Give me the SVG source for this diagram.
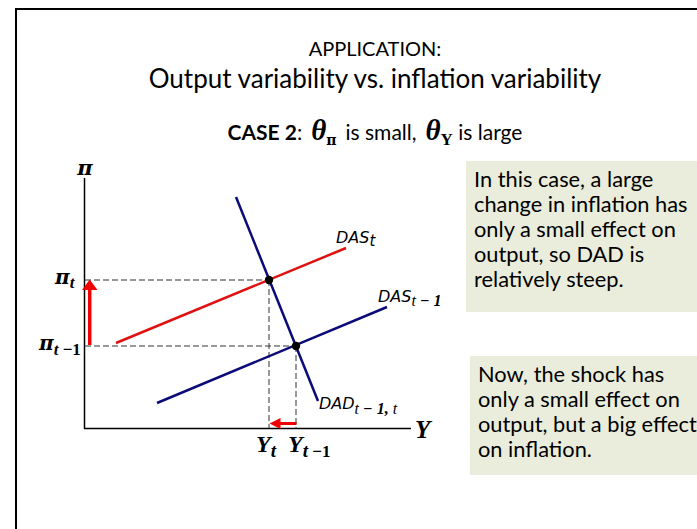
<svg xmlns="http://www.w3.org/2000/svg" width="697" height="529" viewBox="0 0 697 529">
<style>
.sans{font-family:Lato,"Open Sans","Liberation Sans",sans-serif;fill:#000}
.math{font-family:"Liberation Serif","Times New Roman",serif;font-weight:bold;font-style:italic;fill:#000}
.pi{font-family:"DejaVu Serif","Liberation Serif",serif;font-weight:bold;font-style:italic}
.up{font-style:normal}
.lbl{font-family:"DejaVu Sans",Verdana,sans-serif;font-style:italic;font-size:16px;fill:#000}
.sub{font-family:"Liberation Serif",serif;font-style:italic;font-size:16px}
.axis{stroke:#000;stroke-width:1.5;fill:none}
.dash{stroke:#333;stroke-width:1;stroke-dasharray:6 3;fill:none}
.red{stroke:#e01010;stroke-width:2.5;fill:none}
.blue{stroke:#0a0a78;stroke-width:2.5;fill:none}
.box{fill:#eaeddc}
.body{font-family:Lato,"Open Sans","Liberation Sans",sans-serif;font-size:21.8px;fill:#000}
</style>
<rect x="0" y="0" width="697" height="529" fill="#fff"/>
<rect x="16" y="9" width="720" height="560" fill="none" stroke="#000" stroke-width="2"/>

<g id="title">
<text class="sans" x="375" y="56" text-anchor="middle" font-size="20">APPLICATION:</text>
<text class="sans" x="375" y="88" text-anchor="middle" font-size="26">Output variability vs. inflation variability</text>
<text class="sans" x="375" y="140" text-anchor="middle" font-size="21"><tspan font-weight="bold">CASE 2</tspan>:<tspan class="math" font-size="29" dx="9">θ</tspan><tspan class="math up pi" font-size="14" dy="5">π</tspan><tspan dy="-5" dx="9">is small,</tspan><tspan class="math" font-size="29" dx="9">θ</tspan><tspan class="math up" font-size="17" dy="5">Y</tspan><tspan dy="-5"> is large</tspan></text>
</g>

<g id="axes">
<line class="axis" x1="84.5" y1="178" x2="84.5" y2="428.5"/>
<line class="axis" x1="84" y1="428.5" x2="411" y2="428.5"/>
<text class="math pi" x="85" y="175" text-anchor="middle" font-size="21">π</text>
<text class="math" x="415" y="438" font-size="25">Y</text>
</g>

<g id="connectors">
<line class="dash" x1="85" y1="280" x2="269" y2="280"/>
<line class="dash" x1="85" y1="346" x2="296" y2="346"/>
<line class="dash" x1="269" y1="280" x2="269" y2="428"/>
<line class="dash" x1="296" y1="346" x2="296" y2="428"/>
<line class="red" x1="116" y1="343" x2="346" y2="248"/>
<line class="blue" x1="157" y1="403" x2="387" y2="307"/>
<line class="blue" x1="236" y1="197" x2="318" y2="401"/>
<line stroke="#f00000" stroke-width="3.5" x1="89.7" y1="345" x2="89.7" y2="288"/>
<polygon fill="#f00000" points="89.7,279.5 97.5,290 82,290"/>
<line stroke="#f00000" stroke-width="3" x1="296.5" y1="423.5" x2="279" y2="423.5"/>
<polygon fill="#f00000" points="269.5,423.5 280.5,418 280.5,429"/>
</g>

<g id="points">
<circle cx="269" cy="280" r="4.2" fill="#000"/>
<circle cx="296" cy="346" r="4.2" fill="#000"/>
</g>

<g id="labels">
<text class="math" x="55" y="284" font-size="20"><tspan class="pi">π</tspan><tspan font-size="17" dy="4">t</tspan></text>
<text class="math" x="39" y="350" font-size="20"><tspan class="pi">π</tspan><tspan font-size="17" dy="5">t</tspan><tspan class="up" font-size="17"> −1</tspan></text>
<text class="math" x="256" y="452" font-size="24">Y<tspan font-size="19" dy="5">t</tspan></text>
<text class="math" x="288" y="452" font-size="24">Y<tspan font-size="19" dy="5">t</tspan><tspan class="up" font-size="17"> −1</tspan></text>
<text class="lbl" x="336" y="243">DAS<tspan font-size="15" dy="3">t</tspan></text>
<text class="lbl" x="378" y="302">DAS<tspan class="sub" dy="4">t</tspan><tspan class="sub up" font-weight="bold"> − 1</tspan></text>
<text class="lbl" x="319" y="409">DAD<tspan class="sub" dy="5">t</tspan><tspan class="sub up" font-weight="bold"> − 1, </tspan><tspan class="sub">t</tspan></text>
</g>

<g id="box1">
<rect class="box" x="466" y="161" width="240" height="151"/>
<text class="body" x="474" y="187">In this case, a large</text>
<text class="body" x="474" y="212">change in inflation has</text>
<text class="body" x="474" y="237">only a small effect on</text>
<text class="body" x="474" y="262">output, so DAD is</text>
<text class="body" x="474" y="287">relatively steep.</text>
</g>

<g id="box2">
<rect class="box" x="470" y="356" width="235" height="119"/>
<text class="body" x="478" y="382">Now, the shock has</text>
<text class="body" x="478" y="407">only a small effect on</text>
<text class="body" x="478" y="432">output, but a big effect</text>
<text class="body" x="478" y="457">on inflation.</text>
</g>
</svg>
